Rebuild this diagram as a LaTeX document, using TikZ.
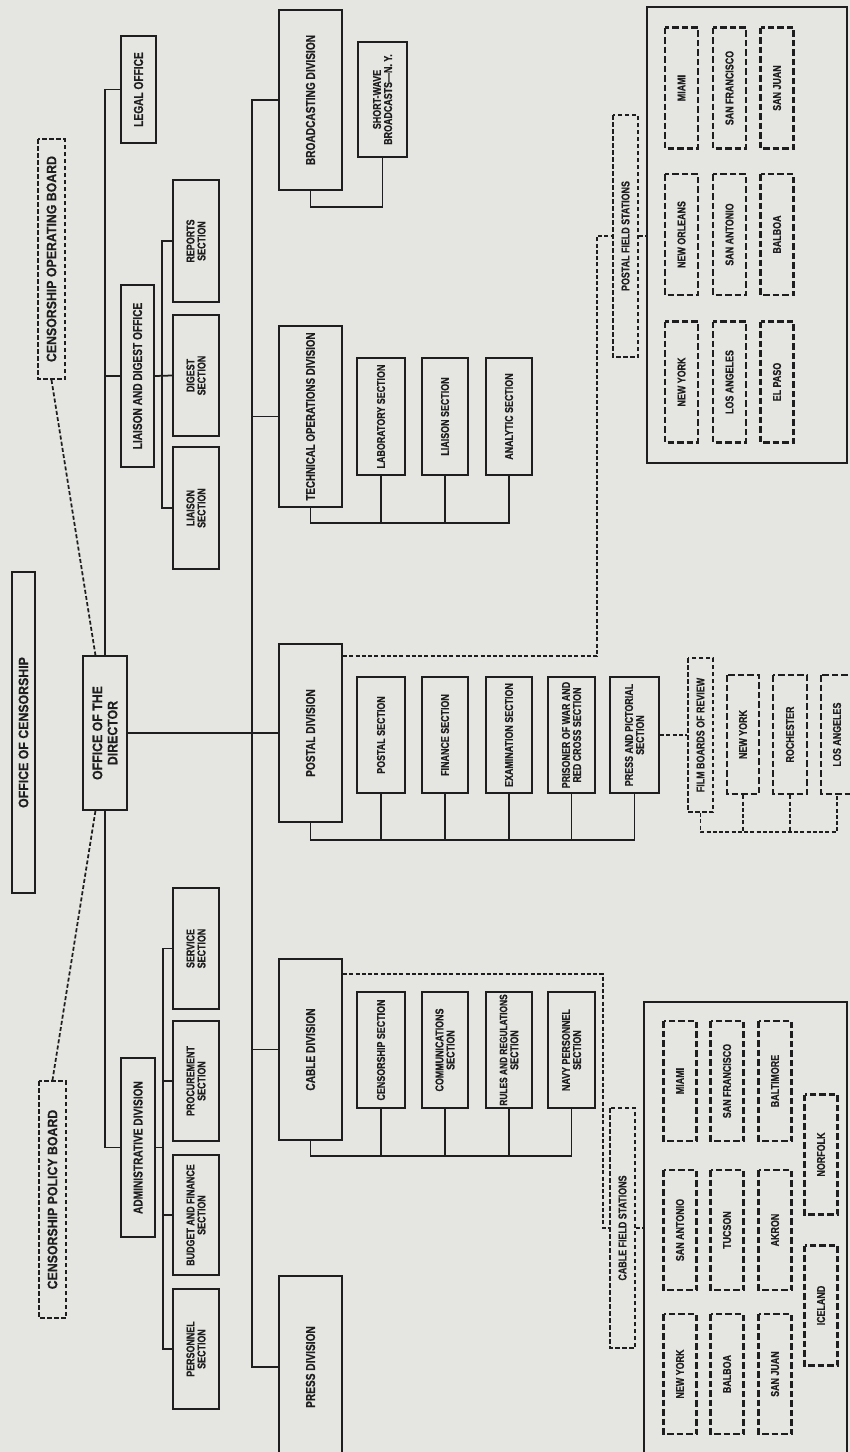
\documentclass[tikz,border=0pt]{standalone}
\usepackage{fontspec}
\newfontfamily\titlefont{Liberation Sans}[FakeStretch=0.9, FakeBold=0.4]
\newfontfamily\bodyfont{Liberation Sans}[FakeStretch=0.78, FakeBold=0.5]
\definecolor{paper}{RGB}{229,229,226}
\definecolor{ink}{RGB}{30,30,30}

\begin{document}
\begin{tikzpicture}[x=0.2mm, y=-0.2mm, line join=miter,
    solidbox/.style={draw=ink, text=ink, rotate=90, inner sep=0pt, align=center, line width=0.4mm},
    dashbox/.style={solidbox, dash pattern=on 0.9mm off 0.5mm},
    citybox/.style={solidbox, dash pattern=on 1.3mm off 0.6mm, line width=0.5mm},
    wh/.style 2 args={minimum width=#1*0.2mm, minimum height=#2*0.2mm},
    titletxt/.style={font=\titlefont\bfseries\fontsize{7.8}{8.6}\selectfont},
    divtxt/.style={font=\bodyfont\bfseries\fontsize{7.4}{7.8}\selectfont},
    sectxt/.style={font=\bodyfont\bfseries\fontsize{6.5}{6.3}\selectfont},
    conn/.style={draw=ink, line width=0.35mm},
    dconn/.style={conn, dash pattern=on 0.8mm off 0.45mm}]

    \useasboundingbox (0,0) rectangle (850,1452);
    \clip (0,0) rectangle (850,1452);
    \fill[paper] (0,0) rectangle (850,1452);

    % Top of the office
    \node[solidbox, titletxt, wh={321}{23}] (oc) at (23.5,732.5) {OFFICE OF CENSORSHIP};
    \node[dashbox, titletxt, wh={240}{27}] (cob) at (51.5,259) {CENSORSHIP OPERATING BOARD};
    \node[dashbox, titletxt, wh={237}{27}] (cpb) at (52.5,1199.5) {CENSORSHIP POLICY BOARD};
    \node[solidbox, titletxt, wh={154}{44}] (dir) at (105,733) {OFFICE OF THE\\DIRECTOR};

    % Staff offices and their sections
    \node[solidbox, divtxt, wh={107}{35}] (legal) at (138.5,89.5) {LEGAL OFFICE};
    \node[solidbox, divtxt, wh={182}{33}] (ldo) at (137.5,376) {LIAISON AND DIGEST OFFICE};
    \node[solidbox, divtxt, wh={179}{34}] (admin) at (138,1147.5) {ADMINISTRATIVE DIVISION};

    \node[solidbox, sectxt, wh={122}{46}] (reports) at (196,241) {REPORTS\\SECTION};
    \node[solidbox, sectxt, wh={121}{46}] (digest) at (196,375.5) {DIGEST\\SECTION};
    \node[solidbox, sectxt, wh={122}{46}] (lsec) at (196,508) {LIAISON\\SECTION};
    \node[solidbox, sectxt, wh={121}{46}] (service) at (196,948.5) {SERVICE\\SECTION};
    \node[solidbox, sectxt, wh={120}{46}] (procure) at (196,1081) {PROCUREMENT\\SECTION};
    \node[solidbox, sectxt, wh={120}{46}] (budget) at (196,1215) {BUDGET AND FINANCE\\SECTION};
    \node[solidbox, sectxt, wh={120}{46}] (personnel) at (196,1349) {PERSONNEL\\SECTION};

    % Operating divisions
    \node[solidbox, divtxt, wh={180}{63}] (bcast) at (310.5,100) {BROADCASTING DIVISION};
    \node[solidbox, divtxt, wh={181}{63}] (tech) at (310.5,416.5) {\fontsize{7.1}{7.6}\selectfont TECHNICAL OPERATIONS DIVISION};
    \node[solidbox, divtxt, wh={178}{63}] (postal) at (310.5,733) {POSTAL DIVISION};
    \node[solidbox, divtxt, wh={181}{63}] (cable) at (310.5,1049.5) {CABLE DIVISION};
    \node[solidbox, divtxt, wh={182}{63}] (press) at (310.5,1367) {PRESS DIVISION};

    \node[solidbox, sectxt, wh={115}{49}] (swave) at (382.5,99.5) {SHORT-WAVE\\BROADCASTS—N. Y.};

    \node[solidbox, sectxt, wh={117}{48}] (lab) at (381,416.5) {LABORATORY SECTION};
    \node[solidbox, sectxt, wh={117}{46}] (tliaison) at (445,416.5) {LIAISON SECTION};
    \node[solidbox, sectxt, wh={117}{46}] (analytic) at (509,416.5) {ANALYTIC SECTION};

    \node[solidbox, sectxt, wh={116}{48}] (psec) at (381,735) {POSTAL SECTION};
    \node[solidbox, sectxt, wh={116}{46}] (fin) at (445,735) {FINANCE SECTION};
    \node[solidbox, sectxt, wh={116}{46}] (exam) at (509,735) {EXAMINATION SECTION};
    \node[solidbox, sectxt, wh={116}{47}] (pow) at (571.5,735) {PRISONER OF WAR AND\\RED CROSS SECTION};
    \node[solidbox, sectxt, wh={116}{49}] (ppict) at (634.5,735) {PRESS AND PICTORIAL\\SECTION};

    \node[solidbox, sectxt, wh={116}{48}] (csec) at (381,1050) {CENSORSHIP SECTION};
    \node[solidbox, sectxt, wh={116}{46}] (comm) at (445,1050) {COMMUNICATIONS\\SECTION};
    \node[solidbox, sectxt, wh={116}{46}] (rules) at (509,1050) {\fontsize{6.1}{6.3}\selectfont RULES AND REGULATIONS\\SECTION};
    \node[solidbox, sectxt, wh={116}{47}] (navy) at (571.5,1050) {NAVY PERSONNEL\\SECTION};

    % Field stations
    \node[dashbox, sectxt, wh={242}{25}] (pfs) at (625.5,236) {POSTAL FIELD STATIONS};
    \node[draw=ink, line width=0.4mm, inner sep=0pt, minimum width=40mm, minimum height=91.2mm] (pframe) at (747,235) {};
    \foreach \cx/\cy/\nm/\txt in {681.5/88/pmia/MIAMI, 729.5/88/psfr/SAN FRANCISCO, 777/88/psju/SAN JUAN,
                                  681.5/234.5/pnor/NEW ORLEANS, 729.5/234.5/psan/SAN ANTONIO, 777/234.5/pbal/BALBOA,
                                  681.5/382/pnyc/NEW YORK, 729.5/382/plax/LOS ANGELES, 777/382/pelp/EL PASO}
        \node[citybox, sectxt, wh={121}{33}] (\nm) at (\cx,\cy) {\txt};

    \node[dashbox, sectxt, wh={154}{25}] (film) at (700.5,735) {FILM BOARDS OF REVIEW};
    \node[citybox, sectxt, wh={119}{32}] (fny) at (743,734.5) {NEW YORK};
    \node[citybox, sectxt, wh={119}{34}] (froch) at (790,734.5) {ROCHESTER};
    \node[citybox, sectxt, wh={119}{32}] (fla) at (837,734.5) {LOS ANGELES};

    \node[dashbox, sectxt, wh={240}{25}] (cfs) at (622.5,1228) {CABLE FIELD STATIONS};
    \node[draw=ink, line width=0.4mm, inner sep=0pt, minimum width=40.6mm, minimum height=94mm] (cframe) at (745.5,1237) {};
    \foreach \cx/\cy/\nm/\txt in {680/1081/cmia/MIAMI, 727/1081/csfr/SAN FRANCISCO, 775/1081/cbal/BALTIMORE,
                                  680/1230/csan/SAN ANTONIO, 727/1230/ctuc/TUCSON, 775/1230/cakr/AKRON,
                                  680/1374/cnyc/NEW YORK, 727/1374/cblb/BALBOA, 775/1374/csju/SAN JUAN,
                                  821/1154.5/cnrf/NORFOLK, 821/1305.5/cice/ICELAND}
        \node[citybox, sectxt, wh={120}{33}] (\nm) at (\cx,\cy) {\txt};

    % Lines of authority
    \draw[conn] (dir.east) |- (legal.north);
    \draw[conn] (dir.west) |- (admin.north);
    \draw[conn] (dir.east |- ldo.north) -- (ldo.north);
    \draw[dconn] (cob.west) -- (dir.7);
    \draw[dconn] (dir.173) -- (cpb.east);

    \coordinate (ldbus) at (162,0);
    \draw[conn] (ldo.south) -- (digest.north);
    \draw[conn] (reports.north) -- (reports.north -| ldbus) -- (lsec.north -| ldbus) -- (lsec.north);

    \coordinate (adbus) at (163,0);
    \draw[conn] (admin.south) -- (admin.south -| adbus);
    \draw[conn] (service.north) -- (service.north -| adbus) -- (personnel.north -| adbus) -- (personnel.north);
    \draw[conn] (procure.north) -- (procure.north -| adbus);
    \draw[conn] (budget.north) -- (budget.north -| adbus);

    \coordinate (mbus) at (252,0);
    \draw[conn] (bcast.north) -- (bcast.north -| mbus) -- (press.north -| mbus) -- (press.north);
    \draw[conn] (tech.north) -- (tech.north -| mbus);
    \draw[conn] (cable.north) -- (cable.north -| mbus);
    \draw[conn] (dir.south) -- (postal.north);

    \draw[conn] (bcast.west) -- ++(0,16) -| (swave.west);

    \coordinate (tbus) at (0,523);
    \draw[conn] (tech.west) |- (analytic.west |- tbus) -- (analytic.west);
    \foreach \n in {lab, tliaison}
        \draw[conn] (\n.west) -- (\n.west |- tbus);

    \coordinate (pbus) at (0,840);
    \draw[conn] (postal.west) |- (ppict.west |- pbus) -- (ppict.west);
    \foreach \n in {psec, fin, exam, pow}
        \draw[conn] (\n.west) -- (\n.west |- pbus);

    \coordinate (cbus) at (0,1156);
    \draw[conn] (cable.west) |- (navy.west |- cbus) -- (navy.west);
    \foreach \n in {csec, comm, rules}
        \draw[conn] (\n.west) -- (\n.west |- cbus);

    % Field station links
    \coordinate (pdx) at (597,0);
    \draw[dconn] (postal.south east) ++(0,13) -| (pfs.north -| pdx) -- (pfs.north);
    \draw[dconn] (pfs.south) -- (pfs.south -| pframe.west);

    \coordinate (cdx) at (603,0);
    \draw[dconn] (cable.south east) ++(0,16) -| (cfs.north -| cdx) -- (cfs.north);
    \draw[dconn] (cfs.south) -- (cfs.south -| cframe.west);

    \coordinate (fbus) at (0,832);
    \draw[dconn] (ppict.south) -- (film.north);
    \draw[dconn] (film.west) |- (fla.west |- fbus) -- (fla.west);
    \foreach \n in {fny, froch}
        \draw[dconn] (\n.west) -- (\n.west |- fbus);
\end{tikzpicture}
\end{document}
